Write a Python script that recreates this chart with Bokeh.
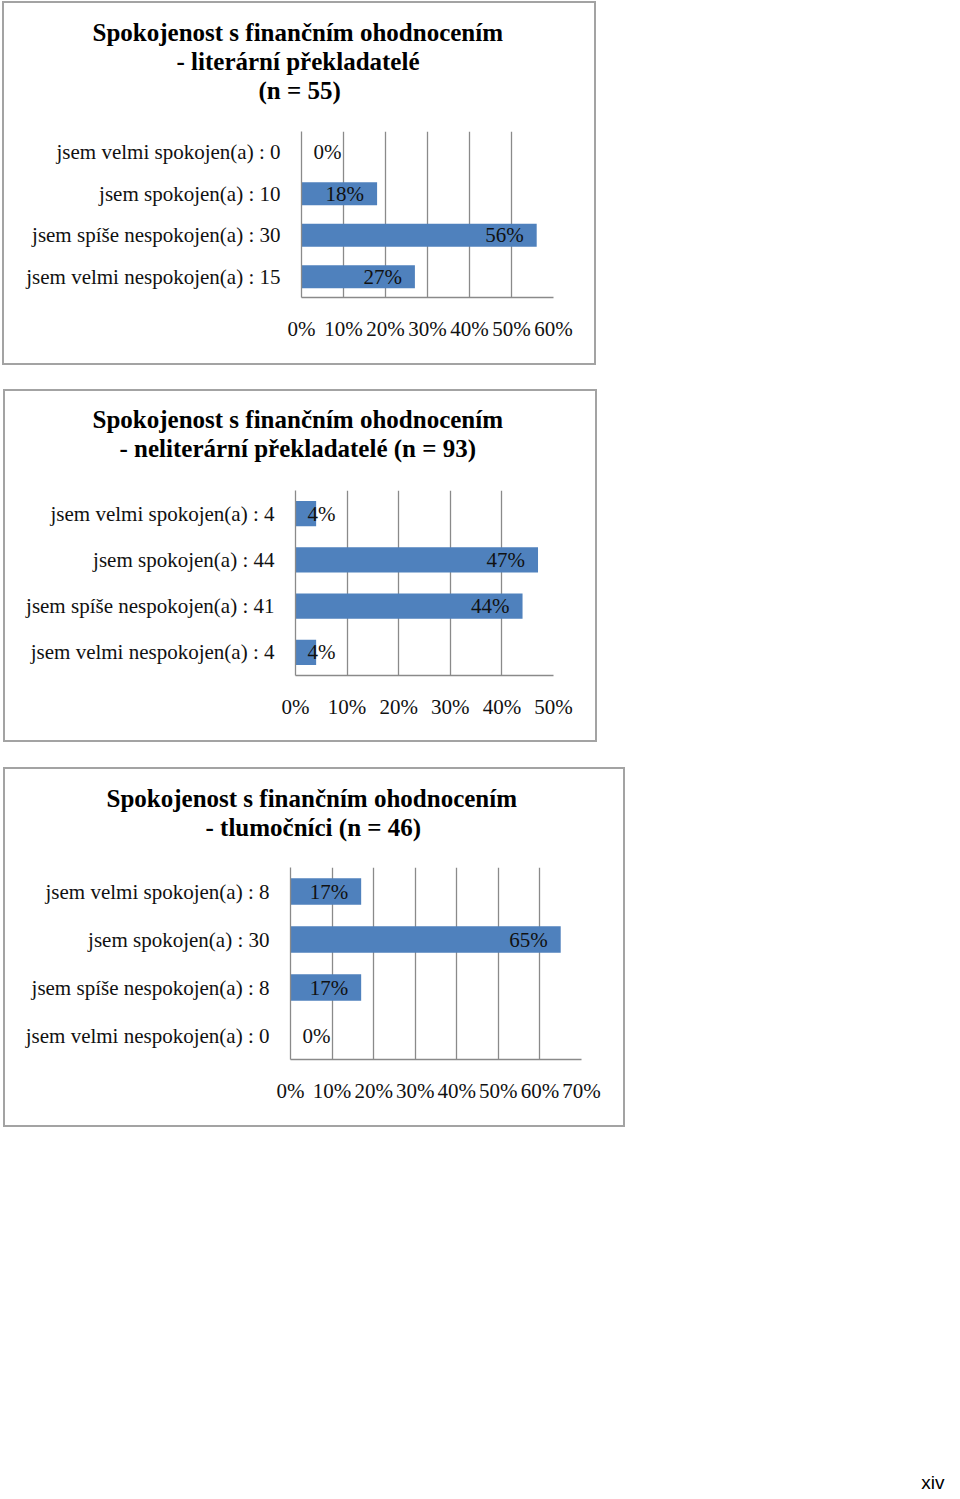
from bokeh.plotting import figure
from bokeh.models import ColumnDataSource, FactorRange, Range1d, FixedTicker, PrintfTickFormatter, Title
from bokeh.layouts import column
from bokeh.embed import file_html
from bokeh.resources import INLINE
from bokeh.core.properties import value

# ---------------- data ----------------
cats1 = ["jsem velmi spokojen(a) : 0", "jsem spokojen(a) : 10",
         "jsem spíše nespokojen(a) : 30", "jsem velmi nespokojen(a) : 15"]
pct1 = [0, 18, 56, 27]
title1 = ["Spokojenost s finančním ohodnocením", "- literární překladatelé", "(n = 55)"]
ticks1 = [0, 10, 20, 30, 40, 50, 60]

cats2 = ["jsem velmi spokojen(a) : 4", "jsem spokojen(a) : 44",
         "jsem spíše nespokojen(a) : 41", "jsem velmi nespokojen(a) : 4"]
pct2 = [4, 47, 44, 4]
title2 = ["Spokojenost s finančním ohodnocením", "- neliterární překladatelé (n = 93)"]
ticks2 = [0, 10, 20, 30, 40, 50]

cats3 = ["jsem velmi spokojen(a) : 8", "jsem spokojen(a) : 30",
         "jsem spíše nespokojen(a) : 8", "jsem velmi nespokojen(a) : 0"]
pct3 = [17, 65, 17, 0]
title3 = ["Spokojenost s finančním ohodnocením", "- tlumočníci (n = 46)"]
ticks3 = [0, 10, 20, 30, 40, 50, 60, 70]

page_number = "xiv"

SERIF = "Liberation Serif"
BAR = "#4F81BD"
GRID = "#8a8a8a"
BORDER = "#a3a3a3"


def no_align(p):
    if "frame_align" in p.properties():
        p.frame_align = False


def make_chart(cats, pct, title_lines, ticks, width, height, borders, title_offsets,
               spacer, margin):
    left, right, top, bottom = borders
    p = figure(width=width, height=height, output_backend="svg", toolbar_location=None,
               x_range=Range1d(ticks[0], ticks[-1]),
               y_range=FactorRange(factors=list(reversed(cats)), range_padding=0),
               min_border_left=left, min_border_right=right,
               min_border_top=top, min_border_bottom=bottom,
               margin=margin)
    no_align(p)
    p.background_fill_color = "white"
    p.border_fill_color = "white"
    p.outline_line_color = None
    p.styles = {"border": f"2px solid {BORDER}"}

    small = [v < 8 for v in pct]
    src = ColumnDataSource(dict(
        cat=cats, v=pct,
        lx=[0 if s else v for s, v in zip(small, pct)],
        align=["left" if s else "right" for s in small],
        off=[12 if s else -13 for s in small],
        txt=[f"{v}%" for v in pct],
    ))
    p.hbar(y="cat", right="v", left=0, height=0.55, source=src,
           fill_color=BAR, line_color=None)
    p.text(x="lx", y="cat", text="txt", source=src, text_align="align", x_offset="off",
           text_baseline="middle", text_font=value(SERIF), text_font_size="21px",
           text_color="#111111")

    # grid / axes
    p.ygrid.grid_line_color = None
    p.xgrid.grid_line_color = GRID
    p.xgrid.grid_line_width = 1.3
    p.xaxis.ticker = FixedTicker(ticks=ticks)
    p.xgrid.ticker = FixedTicker(ticks=ticks)
    p.xaxis.formatter = PrintfTickFormatter(format="%d%%")

    for ax in (p.xaxis, p.yaxis):
        ax.axis_line_color = GRID
        ax.axis_line_width = 1.3
        ax.major_tick_line_color = None
        ax.minor_tick_line_color = None
        ax.major_label_text_font = SERIF
        ax.major_label_text_font_size = "21px"
        ax.major_label_text_color = "#111111"
    p.xaxis.major_label_standoff = 13
    p.yaxis.major_label_standoff = 15

    # spacer between the frame and the title block
    p.add_layout(Title(text=" ", text_font_size="1px", standoff=spacer), "above")
    # title lines: the last line is nearest to the frame
    n = len(title_lines)
    for i in range(n - 1, -1, -1):
        p.add_layout(Title(text=title_lines[i], align="left", offset=title_offsets[i],
                           standoff=0,
                           text_font=SERIF, text_font_size="25px",
                           text_font_style="bold", text_color="#000000"), "above")
    return p


p1 = make_chart(cats1, pct1, title1, ticks1, 594, 364, (297, 45, 128, 70),
                [-209, -125, -43], 25, (1, 0, 0, 2))
p2 = make_chart(cats2, pct2, title2, ticks2, 594, 353, (290, 46, 99, 69),
                [-203, -176], 26, (24, 0, 0, 3))
p3 = make_chart(cats3, pct3, title3, ticks3, 622, 360, (285, 46, 98, 70),
                [-184, -85], 24, (25, 0, 0, 3))

pn = figure(width=120, height=40, output_backend="svg", toolbar_location=None,
            x_range=Range1d(0, 120), y_range=Range1d(0, 40),
            min_border=0, margin=(325, 0, 0, 830))
no_align(pn)
pn.axis.visible = False
pn.grid.visible = False
pn.outline_line_color = None
pn.text(x=[114], y=[10], text=[page_number], text_align="right", text_baseline="alphabetic",
        text_font=value("Liberation Sans"), text_font_size="19px", text_color="#000000")

layout = column(p1, p2, p3, pn, spacing=0)
open("out.html", "w").write(file_html(layout, INLINE))
